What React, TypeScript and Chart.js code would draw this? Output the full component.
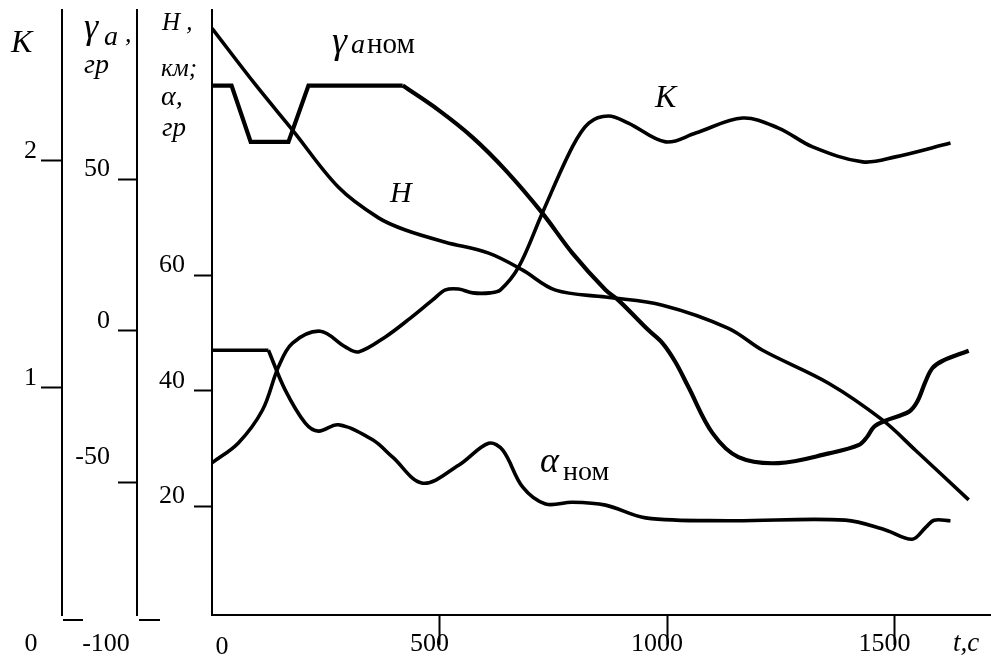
import React, { useEffect, useRef } from "react";
import { Chart, registerables } from "chart.js";

Chart.register(...registerables);

const SERIF = '"Liberation Serif", "Times New Roman", serif';

// time axis ticks (s)
const tTicks = [500, 1000, 1500];
const kTicks = [1, 2];
const gTicks = [50, 0, -50];
const hTicks = [60, 40, 20];

// gamma_a nom: stepped start (linear segments)
const tGammaStep = [0, 43, 85, 168, 212, 419];
const gammaStep = [81, 81, 62.4, 62.4, 81, 81];
// gamma_a nom: smooth part
const tGamma = [419, 498, 572, 645, 726, 792, 865, 893, 959, 990, 1019, 1047, 1100, 1157, 1245, 1356, 1422, 1440, 1455, 1480, 1532, 1550, 1568, 1583, 1605, 1663];
const gamma = [81, 72.9, 64.0, 53.1, 38.9, 25.7, 13.5, 10.2, 0.3, -4.0, -10.4, -18.5, -33.7, -41.6, -43.6, -40.4, -37.6, -34.9, -31.6, -29.6, -26.6, -23.3, -16.7, -12.3, -9.9, -6.5];

// H, km
const tH = [0, 96, 177, 278, 366, 425, 513, 608, 682, 755, 865, 990, 1135, 1210, 1355, 1474, 1546, 1663];
const hVals = [102.7, 92.9, 85.1, 75.2, 69.9, 67.8, 65.7, 63.8, 60.9, 57.4, 56.2, 54.8, 50.8, 47.0, 41.3, 34.9, 29.7, 21.1];

// K
const tK = [0, 58, 111, 146, 177, 238, 293, 322, 381, 436, 485, 513, 542, 573, 612, 634, 674, 726, 792, 828, 871, 915, 997, 1063, 1166, 1245, 1320, 1430, 1502, 1623];
const kVals = [0.67, 0.758, 0.903, 1.093, 1.198, 1.25, 1.181, 1.159, 1.225, 1.308, 1.388, 1.432, 1.436, 1.419, 1.419, 1.432, 1.533, 1.771, 2.062, 2.167, 2.198, 2.167, 2.084, 2.123, 2.189, 2.145, 2.062, 1.996, 2.018, 2.079];

// alpha nom, deg: flat start, then smooth part
const tAFlat = [0, 124];
const aFlat = [47.0, 47.0];
const tA = [124, 161, 205, 234, 278, 353, 397, 463, 542, 608, 639, 683, 733, 792, 865, 953, 1135, 1392, 1480, 1539, 1569, 1587, 1623];
const aVals = [47.0, 40.1, 34.4, 33.0, 34.1, 31.5, 28.5, 24.0, 27.1, 30.9, 29.7, 23.3, 20.4, 20.7, 20.2, 18.0, 17.5, 17.6, 15.9, 14.3, 16.4, 17.6, 17.5];

const pts = (xs: number[], ys: number[]) => xs.map((x, i) => ({ x, y: ys[i] }));

const textPlugin = {
  id: "texts",
  afterDraw(chart: any) {
    const ctx = chart.ctx as CanvasRenderingContext2D;
    ctx.save();
    ctx.fillStyle = "#000";
    ctx.strokeStyle = "#000";
    ctx.textBaseline = "alphabetic";
    const put = (txt: string, x: number, y: number, font: string, align: CanvasTextAlign = "left") => {
      ctx.font = font + " " + SERIF;
      ctx.textAlign = align;
      ctx.fillText(txt, x, y);
    };
    // axis titles
    put("K", 11, 52, "italic 32px");
    put("γ", 84, 38, "italic 36px");
    put("a", 104, 45, "italic 28px");
    put(",", 125, 42, "italic 26px");
    put("гр", 84, 73, "italic 28px");
    put("H ,", 162, 30, "italic 25px");
    put("км;", 161, 76, "italic 25px");
    put("α,", 161, 105, "italic 28px");
    put("гр", 162, 136, "italic 27px");
    // curve labels
    put("γ", 332, 53, "italic 38px");
    put("a", 351, 53, "italic 28px");
    put("ном", 367, 53, "29px");
    put("H", 390, 202, "italic 30px");
    put("K", 655, 107, "italic 32px");
    put("α", 540, 472, "italic 36px");
    put("ном", 563, 480, "28px");
    put("t,c", 953, 651, "italic 27px");
    // bottom labels
    const k = chart.scales.k;
    const g = chart.scales.g;
    const h = chart.scales.h;
    put("0", k.right - 31, 651, "26px", "center");
    put("-100", g.right - 31, 651, "26px", "center");
    put("0", h.right + 10, 654, "26px", "center");
    ctx.lineWidth = 2;
    ctx.beginPath();
    ctx.moveTo(k.right + 1, 620);
    ctx.lineTo(k.right + 21, 620);
    ctx.moveTo(g.right + 2, 620);
    ctx.lineTo(g.right + 23, 620);
    ctx.stroke();
    ctx.restore();
  },
};

const yScale = (
  weight: number,
  width: number,
  min: number,
  max: number,
  tickVals: number[],
  tickLength: number,
  padding: number
) => ({
  type: "linear" as const,
  position: "left" as const,
  weight,
  min,
  max,
  afterBuildTicks: (s: any) => {
    s.ticks = tickVals.map((v) => ({ value: v }));
  },
  afterFit: (s: any) => {
    s.width = width;
    s.paddingTop = 0;
    s.paddingBottom = 0;
  },
  grid: { drawOnChartArea: false, drawTicks: true, tickLength, tickColor: "#000", tickWidth: 2 },
  border: { display: true, color: "#000", width: 2 },
  ticks: {
    color: "#000",
    font: { family: SERIF, size: 26 },
    padding,
    labelOffset: -10,
    // the "-50" label sits higher above its tick in the reference
    callback: (v: any) => (v === -50 ? ["-50", ""] : String(v)),
  },
});

export default function App() {
  const ref = useRef<HTMLCanvasElement>(null);
  useEffect(() => {
    const line = (data: any[], yAxisID: string, width: number, linear = false) => ({
      data,
      yAxisID,
      borderColor: "#000",
      borderWidth: width,
      pointRadius: 0,
      fill: false,
      tension: linear ? 0 : 0.35,
      cubicInterpolationMode: "default" as const,
    });
    const chart = new Chart(ref.current!, {
      type: "line",
      data: {
        datasets: [
          line(pts(tGammaStep, gammaStep), "g", 4.2, true),
          line(pts(tGamma, gamma), "g", 4.2),
          line(pts(tH, hVals), "h", 3.6),
          line(pts(tK, kVals), "k", 3.6),
          line(pts(tAFlat, aFlat), "h", 3.6, true),
          line(pts(tA, aVals), "h", 3.6),
        ],
      },
      options: {
        responsive: false,
        animation: false,
        layout: { padding: { top: 10, left: 0, right: 0, bottom: 0 } },
        plugins: { legend: { display: false }, tooltip: { enabled: false }, title: { display: false } },
        scales: {
          x: {
            type: "linear",
            position: "bottom",
            min: 0,
            max: 1712,
            afterBuildTicks: (s: any) => {
              s.ticks = tTicks.map((v) => ({ value: v }));
            },
            afterFit: (s: any) => {
              s.height = 42;
              s.paddingLeft = 0;
              s.paddingRight = 0;
            },
            grid: { drawOnChartArea: false, drawTicks: true, tickLength: 30, tickColor: "#000", tickWidth: 2 },
            border: { display: true, color: "#000", width: 2 },
            ticks: {
              color: "#000",
              font: { family: SERIF, size: 26 },
              padding: -16,
              labelOffset: -10,
              maxRotation: 0,
              callback: (v: any) => String(v),
            },
          },
          h: yScale(1, 75, 1.19, 105.87, hTicks, 18, 9),
          g: yScale(2, 75, -93.73, 105.94, gTicks, 19, 8),
          k: yScale(3, 62, 0, 2.665, kTicks, 21, 4),
        },
      } as any,
      plugins: [textPlugin],
    });
    return () => chart.destroy();
  }, []);
  return (
    <div style={{ position: "absolute", left: 0, top: 0, width: 991, height: 657, background: "#fff" }}>
      <canvas ref={ref} width={991} height={657} style={{ display: "block" }} />
    </div>
  );
}
